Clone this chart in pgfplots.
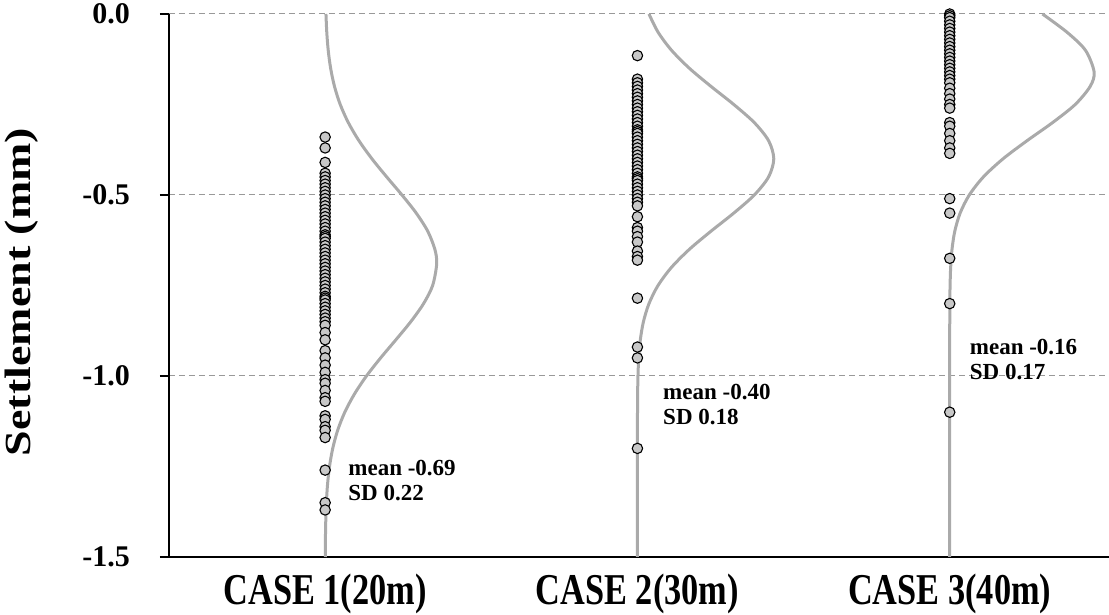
\documentclass[border=0pt]{standalone}
\usepackage{fontspec}
\setmainfont{Liberation Serif}
\usepackage{graphicx}
\usepackage{pgfplots}
\pgfplotsset{compat=1.18}
\definecolor{curvegray}{HTML}{AAAAAA}
\definecolor{gridgray}{HTML}{999999}
\definecolor{dotfill}{HTML}{C8C8C8}
\newcommand{\cat}[1]{\scalebox{0.78}[1]{#1}}
\begin{document}
\begin{tikzpicture}
\begin{axis}[
  scale only axis,
  width=470pt, height=271.5pt,
  xmin=0.5, xmax=3.51,
  ymin=-1.5, ymax=0,
  clip=false,
  axis lines=left,
  axis line style={-, black, line width=1.2pt},
  xtick={1,2,3},
  xticklabels={\cat{CASE 1(20m)},\cat{CASE 2(30m)},\cat{CASE 3(40m)}},
  x tick style={draw=none},
  xticklabel style={font=\fontsize{22}{22}\selectfont\bfseries, anchor=center, yshift=-14pt},
  ytick={-1.5,-1,-0.5,0},
  y tick style={black, line width=1.2pt},
  tick align=outside,
  major tick length=4.5pt,
  yticklabel style={font=\fontsize{15}{15}\selectfont\bfseries, xshift=-11.5pt,
    /pgf/number format/.cd, fixed, precision=1, zerofill, assume math mode=true},
  ymajorgrids=true,
  grid style={gridgray, line width=0.5pt, dash pattern=on 3pt off 2pt},
  ylabel={\scalebox{1}[0.8]{Settlement (mm)}},
  ylabel style={font=\fontsize{23}{23}\selectfont\bfseries,
    at={(axis description cs:-0.157,0.488)}, anchor=center},
]
% normal curves (x = category + scaled density)
\addplot[curvegray, line width=1.5pt, smooth] coordinates {
(1.0026,0) (1.0052,-0.05) (1.0098,-0.10) (1.0176,-0.15) (1.0299,-0.20)
(1.0483,-0.25) (1.0742,-0.30) (1.1082,-0.35) (1.1498,-0.40) (1.1970,-0.45)
(1.2460,-0.50) (1.2917,-0.55) (1.3285,-0.60) (1.3513,-0.65) (1.3572,-0.69)
(1.3442,-0.75) (1.3152,-0.80) (1.2742,-0.85) (1.2265,-0.90) (1.1777,-0.95)
(1.1323,-1.00) (1.0937,-1.05) (1.0629,-1.10) (1.0401,-1.15) (1.0243,-1.20)
(1.0140,-1.25) (1.0076,-1.30) (1.0040,-1.35) (1.0020,-1.40) (1.0009,-1.45)
(1.0004,-1.50)};
\addplot[curvegray, line width=1.5pt, smooth] coordinates {
(2.0370,0) (2.0659,-0.05) (2.1089,-0.10) (2.1664,-0.15) (2.2355,-0.20)
(2.3085,-0.25) (2.3742,-0.30) (2.4200,-0.35) (2.4366,-0.40) (2.4200,-0.45)
(2.3742,-0.50) (2.3085,-0.55) (2.2355,-0.60) (2.1664,-0.65) (2.1089,-0.70)
(2.0659,-0.75) (2.0370,-0.80) (2.0192,-0.85) (2.0092,-0.90) (2.0041,-0.95)
(2.0017,-1.00) (2.0006,-1.05) (2.0002,-1.10) (2.0000,-1.20) (2.0000,-1.50)};
\addplot[curvegray, line width=1.5pt, smooth] coordinates {
(3.2969,0) (3.3750,-0.05) (3.4344,-0.10) (3.4623,-0.16) (3.4497,-0.20)
(3.4018,-0.25) (3.3293,-0.30) (3.2476,-0.35) (3.1707,-0.40) (3.1079,-0.45)
(3.0626,-0.50) (3.0333,-0.55) (3.0162,-0.60) (3.0073,-0.65) (3.0030,-0.70)
(3.0011,-0.75) (3.0004,-0.80) (3.0000,-0.90) (3.0000,-1.50)};
% measured settlements
\addplot[only marks, mark=*, mark size=2.6pt,
  mark options={fill=dotfill, draw=black, line width=0.55pt}] coordinates {
(1,-0.34) (1,-0.37) (1,-0.41) (1,-0.44) (1,-0.45) (1,-0.46) (1,-0.47) (1,-0.48)
(1,-0.49) (1,-0.50) (1,-0.51) (1,-0.52) (1,-0.53) (1,-0.54) (1,-0.55) (1,-0.56)
(1,-0.57) (1,-0.58) (1,-0.59) (1,-0.60) (1,-0.61) (1,-0.615) (1,-0.62) (1,-0.63)
(1,-0.64) (1,-0.65) (1,-0.66) (1,-0.67) (1,-0.68) (1,-0.69) (1,-0.70) (1,-0.71)
(1,-0.72) (1,-0.73) (1,-0.74) (1,-0.75) (1,-0.76) (1,-0.77) (1,-0.78) (1,-0.785)
(1,-0.79) (1,-0.80) (1,-0.81) (1,-0.82) (1,-0.83) (1,-0.84) (1,-0.85) (1,-0.86)
(1,-0.88) (1,-0.90) (1,-0.93) (1,-0.95) (1,-0.97) (1,-0.99) (1,-1.01) (1,-1.02)
(1,-1.04) (1,-1.06) (1,-1.07) (1,-1.11) (1,-1.12) (1,-1.14) (1,-1.15) (1,-1.17)
(1,-1.26) (1,-1.35) (1,-1.37)};
\addplot[only marks, mark=*, mark size=2.6pt,
  mark options={fill=dotfill, draw=black, line width=0.55pt}] coordinates {
(2,-0.115) (2,-0.18) (2,-0.19) (2,-0.20) (2,-0.21) (2,-0.22) (2,-0.23) (2,-0.24)
(2,-0.25) (2,-0.26) (2,-0.27) (2,-0.28) (2,-0.29) (2,-0.30) (2,-0.31) (2,-0.32)
(2,-0.325) (2,-0.33) (2,-0.34) (2,-0.35) (2,-0.36) (2,-0.37) (2,-0.38) (2,-0.39)
(2,-0.40) (2,-0.41) (2,-0.42) (2,-0.43) (2,-0.44) (2,-0.45) (2,-0.455) (2,-0.46)
(2,-0.47) (2,-0.48) (2,-0.49) (2,-0.50) (2,-0.51) (2,-0.52) (2,-0.53)
(2,-0.56) (2,-0.59) (2,-0.60) (2,-0.615) (2,-0.63) (2,-0.655) (2,-0.67) (2,-0.68)
(2,-0.785) (2,-0.92) (2,-0.95) (2,-1.20)};
\addplot[only marks, mark=*, mark size=2.6pt,
  mark options={fill=dotfill, draw=black, line width=0.55pt}] coordinates {
(3,0) (3,-0.005) (3,-0.01) (3,-0.02) (3,-0.03) (3,-0.04) (3,-0.05) (3,-0.06)
(3,-0.07) (3,-0.08) (3,-0.09) (3,-0.10) (3,-0.11) (3,-0.12) (3,-0.13) (3,-0.14)
(3,-0.15) (3,-0.16) (3,-0.17) (3,-0.18) (3,-0.19) (3,-0.205) (3,-0.22) (3,-0.235)
(3,-0.25) (3,-0.26) (3,-0.30) (3,-0.31) (3,-0.33) (3,-0.35) (3,-0.37) (3,-0.385)
(3,-0.51) (3,-0.55) (3,-0.675) (3,-0.80) (3,-1.10)};
\node[anchor=west, align=left, font=\fontsize{11.5}{12.5}\selectfont\bfseries]
  at (axis cs:1.052,-1.29) {mean -0.69\\SD 0.22};
\node[anchor=west, align=left, font=\fontsize{11.5}{12.5}\selectfont\bfseries]
  at (axis cs:2.060,-1.08) {mean -0.40\\SD 0.18};
\node[anchor=west, align=left, font=\fontsize{11.5}{12.5}\selectfont\bfseries]
  at (axis cs:3.042,-0.955) {mean -0.16\\SD 0.17};
\coordinate (bl) at (rel axis cs:0,0);
\coordinate (tr) at (rel axis cs:1,1);
\end{axis}
\pgfresetboundingbox
\useasboundingbox ([xshift=-84.5pt,yshift=-29pt]bl) rectangle ([yshift=7pt]tr);
\end{tikzpicture}
\end{document}
